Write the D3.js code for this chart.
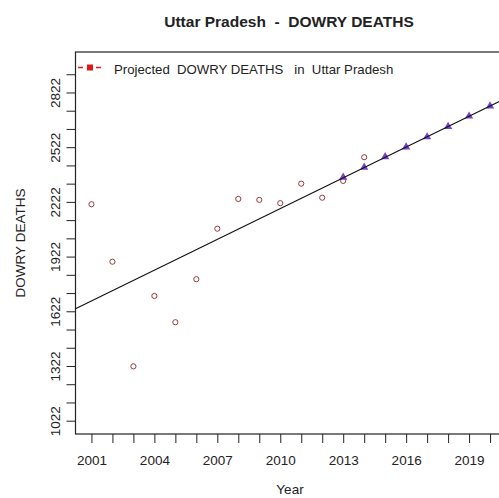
<!DOCTYPE html>
<html>
<head>
<meta charset="utf-8">
<script src="https://cdn.jsdelivr.net/npm/d3@7"></script>
<style>
  html, body { margin: 0; padding: 0; background: #fff; }
  svg { display: block; }
  text { font-family: "Liberation Sans", Arial, sans-serif; fill: #222; }
</style>
</head>
<body>
<svg id="chart" width="499" height="498"></svg>
<script>
// Recorded dowry deaths, Uttar Pradesh
const years = [2001, 2002, 2003, 2004, 2005, 2006, 2007, 2008, 2009, 2010, 2011, 2012, 2013, 2014];
const deaths = [2209, 1894, 1320, 1706, 1562, 1798, 2075, 2238, 2233, 2215, 2322, 2245, 2337, 2467];

// Projected values along the trend
const projYears = [2013, 2014, 2015, 2016, 2017, 2018, 2019, 2020];
const projected = [2357, 2412, 2469, 2523, 2578, 2635, 2692, 2748];

// Axis ticks and labels
const xTicks = d3.range(2001, 2021);
const xLabels = [2001, 2004, 2007, 2010, 2013, 2016, 2019];
const yTicks = d3.range(1022, 2923, 100);
const yLabels = [1022, 1322, 1622, 1922, 2222, 2522, 2822];

const svg = d3.select("#chart");
const L = 75.5, R = 506, T = 52, B = 434;

const x = d3.scaleLinear().domain([2000.24, 2020.76]).range([L, R]);
const y = d3.scaleLinear().domain([949, 3044]).range([B, T]);

svg.append("defs").append("clipPath").attr("id", "plotArea")
  .append("rect").attr("x", L).attr("y", T).attr("width", R - L).attr("height", B - T);

// Title
svg.append("text")
  .attr("x", 289).attr("y", 27)
  .attr("text-anchor", "middle")
  .style("font-size", "15.5px").style("font-weight", "bold")
  .style("white-space", "pre")
  .text("Uttar Pradesh  -  DOWRY DEATHS");

// Axes
const xAxis = d3.axisBottom(x).tickValues(xTicks).tickSize(9)
  .tickFormat(d => xLabels.includes(d) ? d : "");
const gx = svg.append("g").attr("transform", `translate(0,${B})`).call(xAxis);
gx.select(".domain").remove();
gx.selectAll(".tick line").attr("stroke", "#222");
gx.selectAll(".tick text").attr("y", 0).attr("dy", null)
  .attr("transform", "translate(0,31)")
  .style("font-size", "13.5px").style("font-family", "'Liberation Sans', Arial, sans-serif");

const yAxis = d3.axisLeft(y).tickValues(yTicks).tickSize(9)
  .tickFormat(d => yLabels.includes(d) ? d : "");
const gy = svg.append("g").attr("transform", `translate(${L},0)`).call(yAxis);
gy.select(".domain").remove();
gy.selectAll(".tick line").attr("stroke", "#222");
gy.selectAll(".tick text")
  .attr("x", null).attr("dy", null)
  .attr("text-anchor", "middle")
  .attr("transform", "translate(-15.5,0) rotate(-90)")
  .style("font-size", "13.5px").style("font-family", "'Liberation Sans', Arial, sans-serif");

// Axis titles
svg.append("text")
  .attr("x", 290).attr("y", 494)
  .attr("text-anchor", "middle")
  .style("font-size", "13.5px")
  .text("Year");
svg.append("text")
  .attr("transform", `translate(25,${(T + B) / 2}) rotate(-90)`)
  .attr("text-anchor", "middle")
  .style("font-size", "13.5px")
  .text("DOWRY DEATHS");

// Plot frame
svg.append("rect")
  .attr("x", L).attr("y", T).attr("width", R - L).attr("height", B - T)
  .attr("fill", "none").attr("stroke", "#222").attr("stroke-width", 1.2);

const plot = svg.append("g").attr("clip-path", "url(#plotArea)");

// Recorded values
plot.selectAll("circle.obs")
  .data(years.map((yr, i) => [yr, deaths[i]]))
  .join("circle").attr("class", "obs")
  .attr("cx", d => x(d[0])).attr("cy", d => y(d[1]))
  .attr("r", 2.6)
  .attr("fill", "none").attr("stroke", "#9a3a3a").attr("stroke-width", 1);

// Projected values
plot.selectAll("path.proj")
  .data(projYears.map((yr, i) => [yr, projected[i]]))
  .join("path").attr("class", "proj")
  .attr("transform", d => `translate(${x(d[0])},${y(d[1])})`)
  .attr("d", d3.symbol(d3.symbolTriangle, 30))
  .attr("fill", "#7645cc");

// Least-squares trend through the recorded values
const mx = d3.mean(years), my = d3.mean(deaths);
const slope = d3.sum(years, (v, i) => (v - mx) * (deaths[i] - my)) / d3.sum(years, v => (v - mx) ** 2);
const fit = v => my + slope * (v - mx);
const [x0, x1] = x.domain();
plot.append("line")
  .attr("x1", x(x0)).attr("y1", y(fit(x0)))
  .attr("x2", x(x1)).attr("y2", y(fit(x1)))
  .attr("stroke", "#111").attr("stroke-width", 1.1);

// Legend
const lg = svg.append("g");
lg.append("line")
  .attr("x1", 78).attr("x2", 101).attr("y1", 67.5).attr("y2", 67.5)
  .attr("stroke", "#e01818").attr("stroke-width", 1.3).attr("stroke-dasharray", "5,4");
lg.append("rect")
  .attr("x", 87).attr("y", 64.5).attr("width", 6).attr("height", 6)
  .attr("fill", "#e01818");
lg.append("text")
  .attr("x", 114).attr("y", 74)
  .style("font-size", "13.2px").style("white-space", "pre")
  .text("Projected  DOWRY DEATHS   in  Uttar Pradesh");
</script>
</body>
</html>
